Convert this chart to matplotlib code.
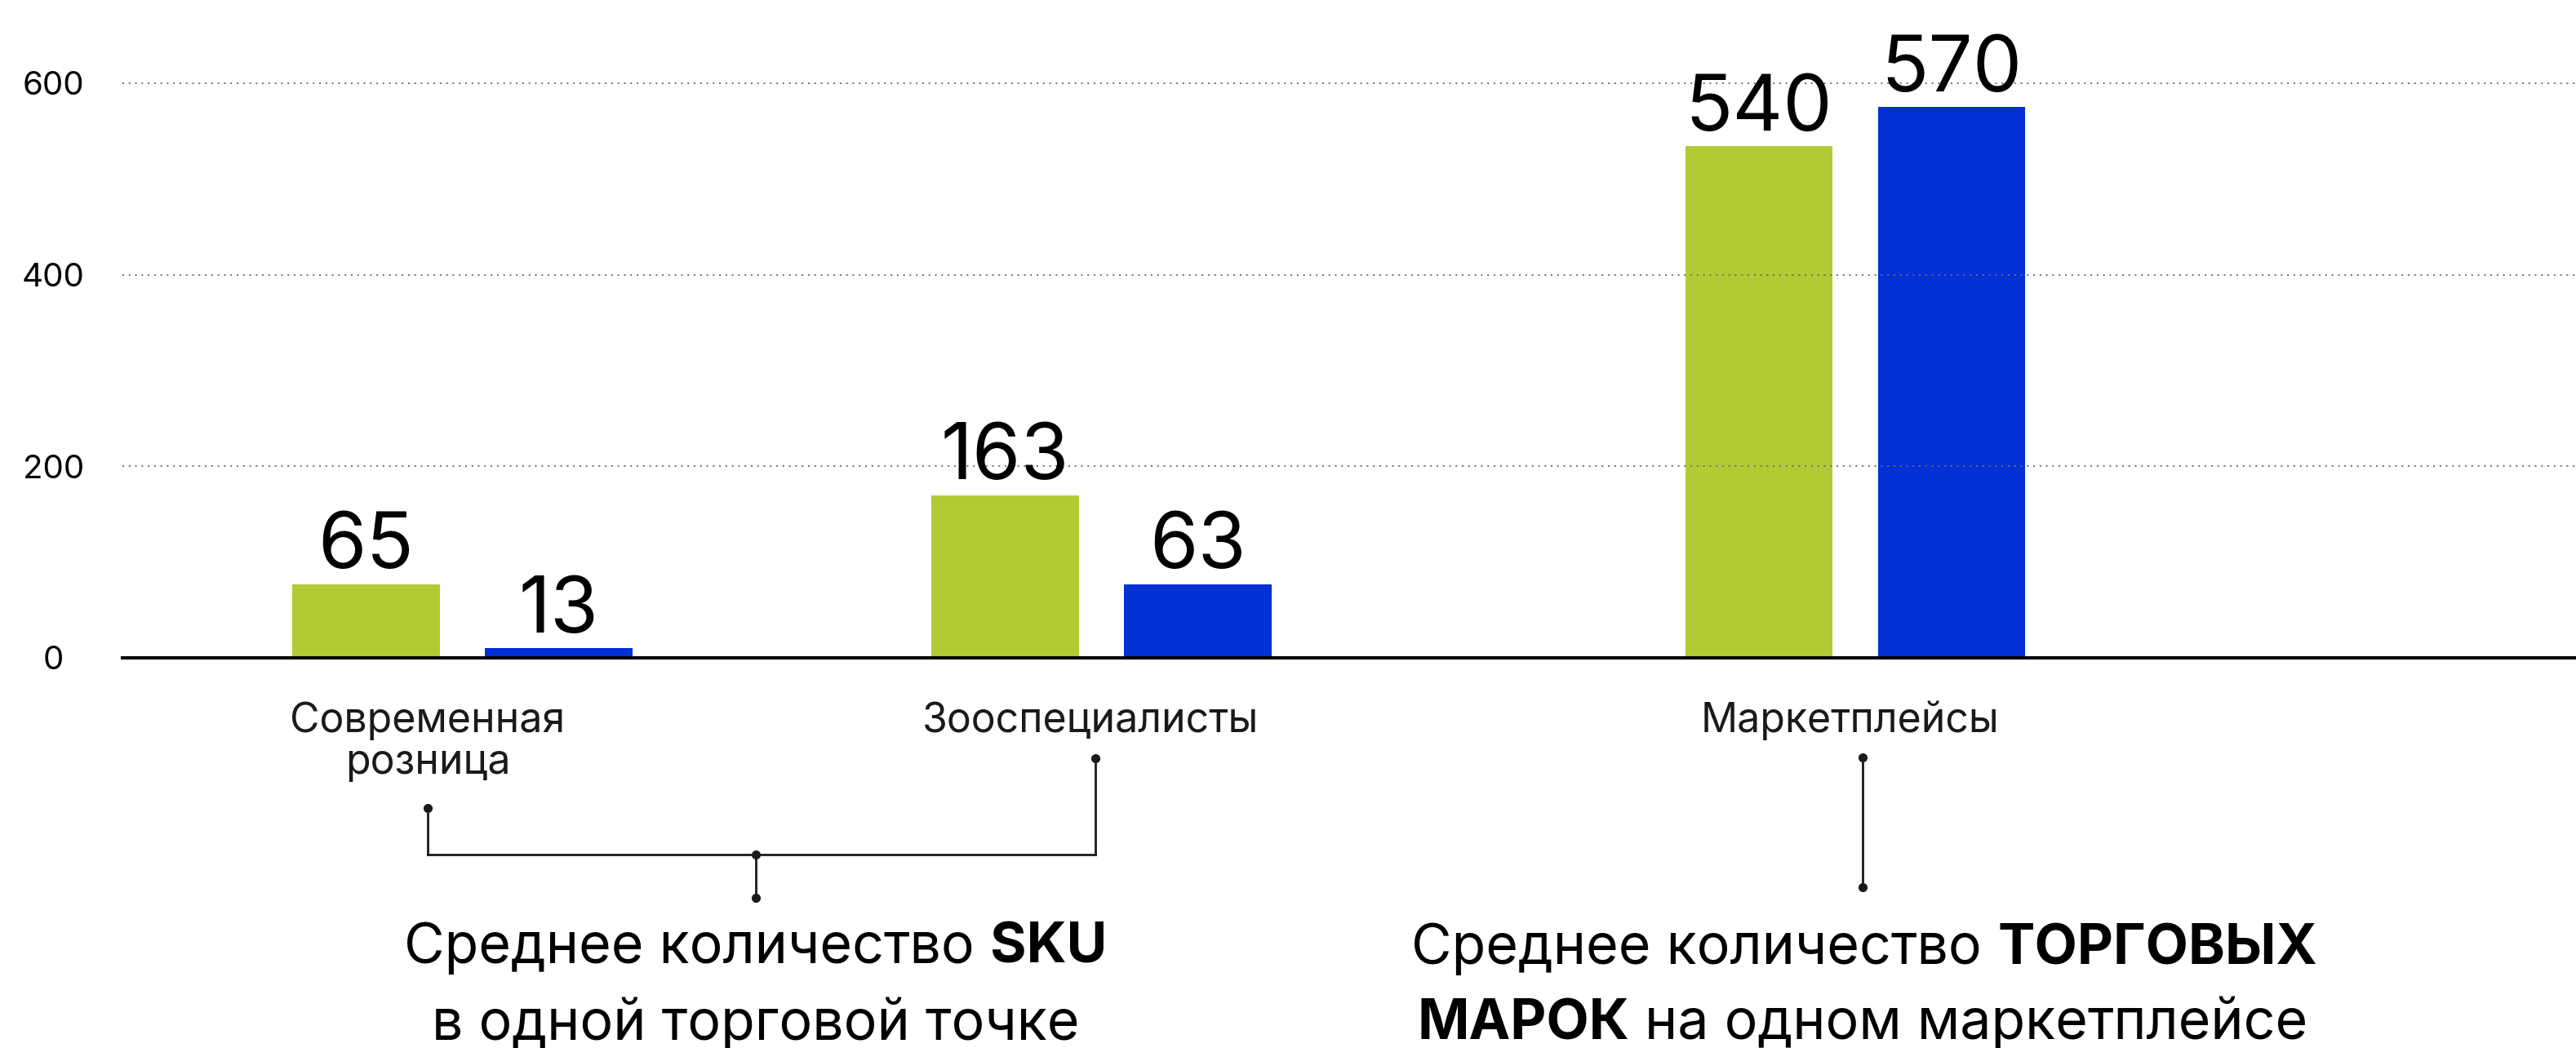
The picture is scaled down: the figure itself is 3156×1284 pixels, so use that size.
import matplotlib
matplotlib.use("Agg")
import matplotlib.pyplot as plt
import numpy as np

plt.rcParams['font.family'] = ['Inter', 'DejaVu Sans']

# data
categories = ['Современная\nрозница', 'Зооспециалисты', 'Маркетплейсы']
green_vals = [77, 170, 534]
blue_vals = [10, 77, 575]
green_labels = ['65', '163', '540']
blue_labels = ['13', '63', '570']
y_ticks = [0, 200, 400, 600]

GREEN = '#B1CB35'
BLUE = '#0230D4'
INK = '#1a1a1a'

W, H = 3156, 1284


def fx(px):
    return px / W


def fy(py):
    return 1 - py / H


fig = plt.figure(figsize=(W / 100, H / 100), dpi=100)
ax_left, ax_base = 150, 806
ymax = 680
ax = fig.add_axes([fx(ax_left), fy(ax_base), fx(W - ax_left),
                   ymax * 1.1735 / H])

# category centres (layout) and bar geometry
group_x = np.array([0.0, 1.0, 2.179])
bar_w = 0.23
off = 0.1507

ax.bar(group_x - off, green_vals, width=bar_w, color=GREEN, zorder=1)
ax.bar(group_x + off, blue_vals, width=bar_w, color=BLUE, zorder=1)

for x, v, lab in zip(group_x - off, green_vals, green_labels):
    ax.annotate(lab, (x, v), xytext=(0, 14), textcoords='offset points',
                ha='center', va='baseline', fontsize=69, color='black')
for x, v, lab in zip(group_x + off, blue_vals, blue_labels):
    ax.annotate(lab, (x, v), xytext=(0, 14), textcoords='offset points',
                ha='center', va='baseline', fontsize=69, color='black')

ax.set_xlim((ax_left - 566.5) / 783, (W - 566.5) / 783)
ax.set_ylim(0, ymax)
ax.set_yticks(y_ticks)
ax.set_xticks([])
ax.yaxis.grid(True, color='#6e6e6e', linestyle=(0, (1, 3)), linewidth=1.4)
ax.set_axisbelow(False)
for s in ['left', 'top', 'right']:
    ax.spines[s].set_visible(False)
ax.spines['bottom'].set_linewidth(2.9)
ax.spines['bottom'].set_color('black')
ax.spines['bottom'].set_zorder(3)
ax.tick_params(axis='y', length=0, pad=61, labelsize=29)
for t in ax.get_yticklabels():
    t.set_ha('center')

# category labels
cat_x = [524, 1336, 2267]
for cx, name in zip(cat_x, categories):
    for i, line in enumerate(name.split('\n')):
        fig.text(fx(cx), fy(897 + 51 * i), line, ha='center', va='baseline',
                 fontsize=36, color=INK)

# brackets
lw = 2.0


def seg(x0, y0, x1, y1):
    fig.add_artist(plt.Line2D([fx(x0), fx(x1)], [fy(y0), fy(y1)],
                              color=INK, lw=lw, transform=fig.transFigure))


def dot(x, y):
    fig.add_artist(plt.Line2D([fx(x)], [fy(y)], marker='o', markersize=7,
                              color=INK, transform=fig.transFigure))


seg(524, 990, 524, 1047)
seg(1342, 929, 1342, 1047)
seg(524, 1047, 1342, 1047)
seg(926, 1047, 926, 1100)
dot(524, 990)
dot(1342, 929)
dot(926, 1047)
dot(926, 1100)

seg(2282, 928, 2282, 1087)
dot(2282, 928)
dot(2282, 1087)

# captions with mixed weights
renderer = fig.canvas.get_renderer()
cap_size = 49


def text_w(s, weight):
    t = fig.text(0, 0, s, fontsize=cap_size, weight=weight)
    w = t.get_window_extent(renderer).width
    t.remove()
    return w


space_w = text_w('a a', 'normal') - text_w('aa', 'normal')


def rich_line(parts, cx, y):
    widths = [text_w(s, w) for s, w in parts]
    total = sum(widths) + space_w * (len(parts) - 1)
    x = cx - total / 2
    for (s, w), wd in zip(parts, widths):
        fig.text(fx(x), fy(y), s, fontsize=cap_size, weight=w,
                 ha='left', va='baseline', color='black')
        x += wd + space_w


rich_line([('Среднее количество', 'normal'), ('SKU', 'bold')], 926, 1180)
rich_line([('в одной торговой точке', 'normal')], 926, 1274)
rich_line([('Среднее количество', 'normal'), ('ТОРГОВЫХ', 'bold')], 2284, 1181)
rich_line([('МАРОК', 'bold'), ('на одном маркетплейсе', 'normal')], 2282, 1273)

fig.savefig('out.png', dpi=100, facecolor='white')
